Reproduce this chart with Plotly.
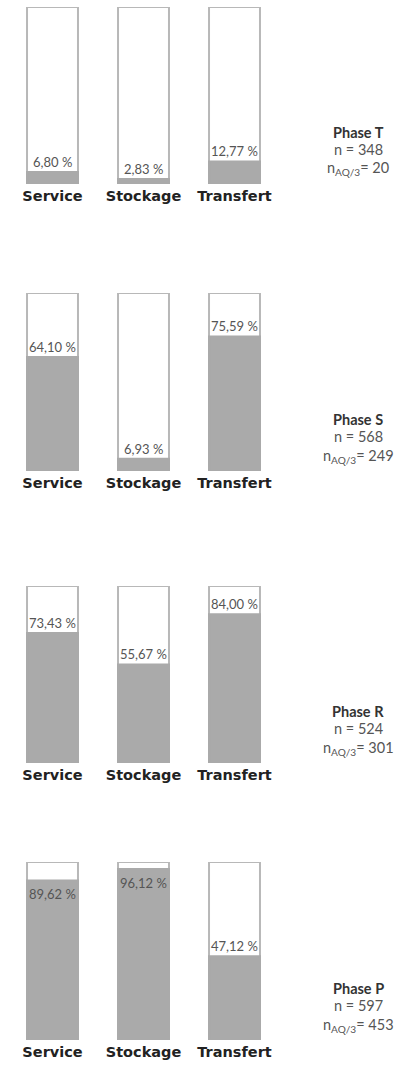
import plotly.graph_objects as go
from plotly.subplots import make_subplots

categories = ["Service", "Stockage", "Transfert"]
phases = ["Phase T", "Phase S", "Phase R", "Phase P"]
values_T = [6.80, 2.83, 12.77]
values_S = [64.10, 6.93, 75.59]
values_R = [73.43, 55.67, 84.00]
values_P = [89.62, 96.12, 47.12]
n_total = [348, 568, 524, 597]
n_aq3 = [20, 249, 301, 453]
all_values = [values_T, values_S, values_R, values_P]

W, H = 403, 1065
# pixel extents (top, bottom) of the bars in each panel
panel_px = [(7, 184), (293, 471), (586, 763), (862, 1040)]

FONT = "Lato"
TICKFONT = "DejaVu Sans"
GRAY = "#aaaaaa"
OUTLINE = "#b8b8b8"

fig = make_subplots(rows=4, cols=1)

def fmt(v):
    return f"{v:.2f}".replace(".", ",") + " %"

annotations = []
for i, vals in enumerate(all_values):
    r = i + 1
    fig.add_trace(go.Bar(x=categories, y=[100] * 3, width=0.56,
                         marker=dict(color="white", line=dict(color=OUTLINE, width=2)),
                         hoverinfo="skip", showlegend=False), row=r, col=1)
    fig.add_trace(go.Bar(x=categories, y=vals, width=0.56,
                         marker=dict(color=GRAY, line=dict(color=GRAY, width=2)),
                         showlegend=False), row=r, col=1)
    top, bot = panel_px[i]
    dom = [1 - bot / H, 1 - top / H]
    ax = "" if r == 1 else str(r)
    fig.layout["yaxis" + ax].update(domain=dom, range=[0, 100], visible=False, fixedrange=True)
    fig.layout["xaxis" + ax].update(domain=[7 / W, 280 / W], range=[-0.5, 2.5],
                                    showgrid=False, zeroline=False, showline=False,
                                    ticks="", ticklabelstandoff=1,
                                    tickfont=dict(family=TICKFONT, size=14.5, color="#222222", weight="bold"))
    for c, v in zip(categories, vals):
        inside = v > 88
        annotations.append(dict(x=c, y=v, xref="x" + ax, yref="y" + ax,
                                text=fmt(v), showarrow=False,
                                yanchor="top" if inside else "bottom",
                                yshift=-4 if inside else 0,
                                font=dict(family=FONT, size=13, color="#555555")))
    # phase info on the right
    annotations.append(dict(x=358 / W, y=1 - (bot - 52) / H, xref="paper", yref="paper",
                            xanchor="center", yanchor="middle",
                            text=f"<b>{phases[i]}</b>", showarrow=False,
                            font=dict(family=FONT, size=14.5, color="#333333")))
    annotations.append(dict(x=358 / W, y=1 - (bot - 35) / H, xref="paper", yref="paper",
                            xanchor="center", yanchor="middle",
                            text=f"n = {n_total[i]}", showarrow=False,
                            font=dict(family=FONT, size=14.5, color="#555555")))
    annotations.append(dict(x=358 / W, y=1 - (bot - 15) / H, xref="paper", yref="paper",
                            xanchor="center", yanchor="middle",
                            text=f"n<sub>AQ/3</sub>= {n_aq3[i]}", showarrow=False,
                            font=dict(family=FONT, size=14.5, color="#555555")))

fig.update_layout(width=W, height=H, margin=dict(l=0, r=0, t=0, b=0),
                  barmode="overlay", plot_bgcolor="white", paper_bgcolor="white",
                  annotations=annotations, showlegend=False)

fig.write_html("out.html", config={"displayModeBar": False},
               post_script="document.body.style.margin='0';")
